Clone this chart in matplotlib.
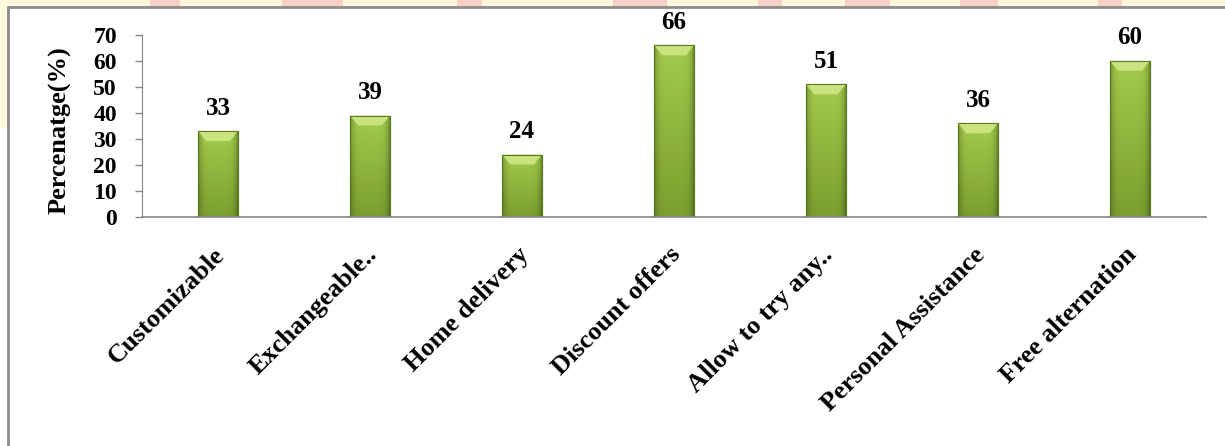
import matplotlib
matplotlib.use('Agg')
import matplotlib.pyplot as plt
import matplotlib.patches as mpatches
import matplotlib.transforms as mtrans
import numpy as np
from matplotlib.colors import to_rgb

# dados do grafico
categorias = ['Customizable', 'Exchangeable..', 'Home delivery', 'Discount offers',
              'Allow to try any..', 'Personal Assistance', 'Free alternation']
valores = [33, 39, 24, 66, 51, 36, 60]
eixo_y_ticks = [0, 10, 20, 30, 40, 50, 60, 70]
eixo_y_titulo = 'Percenatge(%)'

# =============================== #

LARG, ALT = 1225, 446
fonte = 'Liberation Serif'
verde_topo = to_rgb('#a3cb4c')
verde_base = to_rgb('#7a9f2e')
verde_borda = '#5b7a1f'
verde_bisel = '#c9e37f'
largura = 0.26

fig = plt.figure(figsize=(LARG / 100, ALT / 100), dpi=100)
fig.patch.set_facecolor('white')

# faixa de fundo (marca d'agua) acima da moldura
fundo = [mpatches.Rectangle((0, 1 - 7 / ALT), 1, 7 / ALT, facecolor='#fff8dc'),
         mpatches.Rectangle((0, 1 - 128 / ALT), 8 / LARG, 128 / ALT, facecolor='#fff8dc')]
for x0, x1 in [(150, 180), (282, 343), (457, 482), (613, 667), (758, 782),
               (845, 890), (960, 998), (1098, 1122)]:
    fundo.append(mpatches.Rectangle((x0 / LARG, 1 - 7 / ALT), (x1 - x0) / LARG, 7 / ALT,
                                    facecolor='#f9cfc6'))
for p in fundo:
    p.set_transform(fig.transFigure)
    p.set_edgecolor('none')
    p.set_zorder(-2)
    fig.patches.append(p)

# moldura da area do grafico
moldura = mpatches.Rectangle((8 / LARG, -0.1), 1.1, 1.1 - 7 / ALT, transform=fig.transFigure,
                             facecolor='white', edgecolor='#8c8c8c', linewidth=2, zorder=-1)
fig.patches.append(moldura)

ax = fig.add_axes([142 / LARG, 1 - 217 / ALT, 1064 / LARG, 182 / ALT])
ax.patch.set_alpha(0.0)
ax.set_zorder(2)

pos = np.arange(len(categorias))
barras = ax.bar(pos, valores, largura, color=verde_base, edgecolor=verde_borda, linewidth=0.8, zorder=2)

# gradiente e bisel de cada barra
nx, ny = 40, 100
t = np.linspace(-1, 1, nx)
perfil_h = 1 - 0.28 * np.abs(t) ** 6
for i, (b, v) in enumerate(zip(barras, valores)):
    x0 = b.get_x()
    x1 = x0 + b.get_width()
    s = np.linspace(0, 1, ny)[:, None, None]
    cor = (1 - s) * np.array(verde_topo) + s * np.array(verde_base)
    img = cor * perfil_h[None, :, None]
    im = ax.imshow(np.clip(img, 0, 1), extent=(x0, x1, 0, v), origin='upper',
                   aspect='auto', zorder=2.1, interpolation='bilinear')
    im.set_clip_path(b)
    dx = (x1 - x0) * 0.2
    dy = 3.8
    bisel = mpatches.Polygon([(x0, v), (x1, v), (x1 - dx, v - dy), (x0 + dx, v - dy)],
                             closed=True, facecolor=verde_bisel, edgecolor='none', zorder=2.2)
    ax.add_patch(bisel)
    contorno = mpatches.Rectangle((x0, 0), x1 - x0, v, facecolor='none',
                                  edgecolor=verde_borda, linewidth=0.8, zorder=2.3)
    ax.add_patch(contorno)
    ax.annotate(str(v), xy=(pos[i], v), xytext=(0, 12), textcoords='offset points',
                ha='center', va='baseline', fontsize=18, fontweight='bold', family=fonte)

ax.set_xlim(-0.5, len(categorias) - 0.5)
ax.set_ylim(0, 70)
ax.set_yticks(eixo_y_ticks)
ax.set_yticklabels([str(v) for v in eixo_y_ticks], fontsize=17, fontweight='bold', family=fonte)
ax.tick_params(axis='y', direction='out', length=5, width=1, color='#868686', pad=13)
ax.tick_params(axis='x', length=0, pad=0)
ax.set_xticks(pos)
ax.set_xticklabels(categorias, rotation=45, ha='right', va='top', rotation_mode='anchor',
                   fontsize=19, fontweight='bold', family=fonte)
desloc = mtrans.ScaledTranslation(-5 / 100, -26 / 100, fig.dpi_scale_trans)
for lb in ax.get_xticklabels():
    lb.set_transform(lb.get_transform() + desloc)

for lado in ['top', 'right']:
    ax.spines[lado].set_visible(False)
ax.spines['left'].set_color('#868686')
ax.spines['bottom'].set_color('#868686')
ax.spines['bottom'].set_linewidth(1.2)

ax.set_ylabel(eixo_y_titulo, fontsize=19, fontweight='bold', family=fonte)
ax.yaxis.set_label_coords((72 - 142) / 1064, (217 - 130.5) / 182)

fig.savefig('out.png', dpi=100, facecolor=fig.get_facecolor())
